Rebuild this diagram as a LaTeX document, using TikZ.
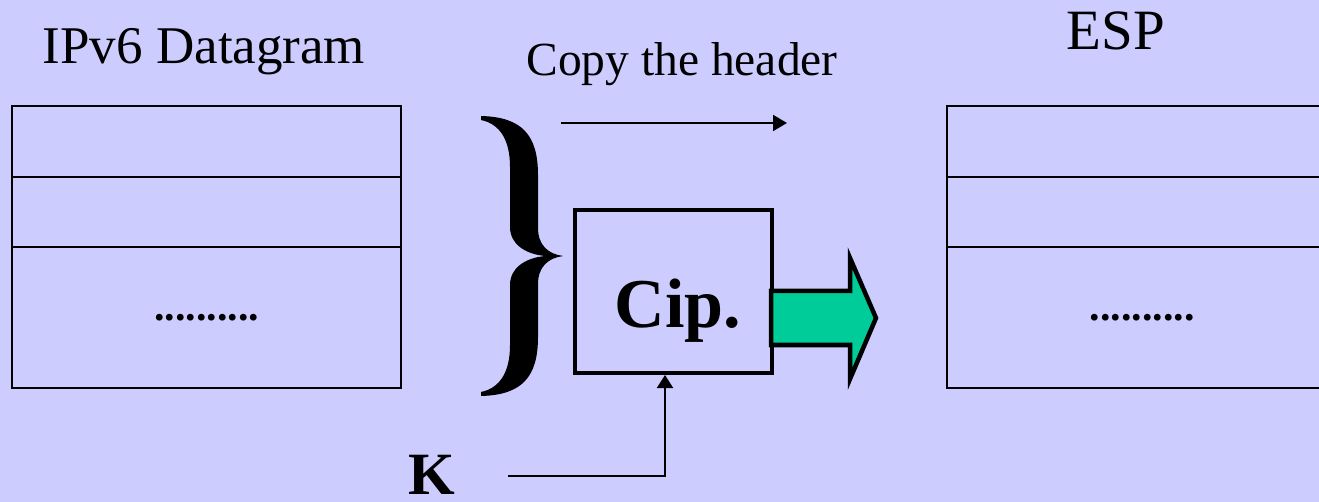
\documentclass[tikz,border=0pt]{standalone}
\usepackage{fontspec}
\setmainfont{Liberation Serif}
\usetikzlibrary{arrows.meta,calc}
\definecolor{bgc}{RGB}{204,204,255}
\definecolor{grn}{RGB}{0,204,153}
\tikzset{
  field/.style={draw=black, line width=2.5pt, inner sep=0pt, outer sep=0pt, minimum width=389pt},
  dotsfont/.style={font=\bfseries\fontsize{42}{50}\selectfont},
  title/.style={font=\fontsize{53}{60}\selectfont, anchor=base, inner sep=0pt},
  thinarrow/.style={line width=2pt, -{Triangle[length=14pt,width=16pt]}},
}
\begin{document}
\begin{tikzpicture}[x=1pt,y=-1pt]
\fill[bgc] (0,0) rectangle (1319,502);
\useasboundingbox (0,0) rectangle (1319,502);
\clip (0,0) rectangle (1319,502);
% titles
\node[title] (t1) at (204,64) {IPv6 Datagram};
\node[title, font=\fontsize{57}{62}\selectfont] (t2) at (1116,50) {ESP};
\node[title, font=\fontsize{47.5}{52}\selectfont] (t3) at (682,76) {Copy the header};
% left datagram
\node[field, minimum height=71pt, anchor=north west] (l1) at (12,106) {};
\node[field, minimum height=70pt, anchor=north] (l2) at (l1.south) {};
\node[field, minimum height=141pt, anchor=north, dotsfont] (l3) at (l2.south) {..........};
% right ESP
\node[field, minimum width=390pt, minimum height=71pt, anchor=north west] (r1) at (947,106) {};
\node[field, minimum width=390pt, minimum height=70pt, anchor=north] (r2) at (r1.south) {};
\node[field, minimum width=390pt, minimum height=141pt, anchor=north, dotsfont] (r3) at (r2.south) {..........};
% brace
\fill[black] (481,116) .. controls (522,117) and (538,135) .. (538,175) -- (538,228)
  .. controls (538,245) and (548,254) .. (563,256)
  .. controls (548,258) and (538,267) .. (538,284) -- (538,337)
  .. controls (538,377) and (522,395) .. (481,396) -- (481,392)
  .. controls (500,388) and (510,372) .. (510,345) -- (510,285)
  .. controls (510,268) and (525,258) .. (545,256)
  .. controls (525,254) and (510,244) .. (510,227) -- (510,167)
  .. controls (510,140) and (500,124) .. (481,120) -- cycle;
% cipher box
\node[draw=black, line width=4pt, minimum width=197pt, minimum height=163pt, inner sep=0pt] (cip) at (673.5,291.5) {};
\node[font=\bfseries\fontsize{70}{80}\selectfont, anchor=base, inner sep=0pt] (ciptext) at (678,327) {Cip.};
% green arrow
\filldraw[fill=grn, draw=black, line width=4.5pt, line join=miter]
  ([xshift=-3pt]cip.east |- 0,291) -- (850,291) -- (850,258) -- (876,318) -- (850,379) -- (850,345) -- ([xshift=-3pt]cip.east |- 0,345) -- cycle;
% copy arrow
\coordinate (cs) at (561,123);
\coordinate (ce) at (787,123);
\draw[thinarrow] (cs) -- (ce);
% key
\node[font=\bfseries\fontsize{60}{66}\selectfont, anchor=base, inner sep=0pt] (K) at (432,494) {K};
\coordinate (ks) at (508,476);
\draw[thinarrow, -{Triangle[length=13pt,width=16pt]}] (ks) -| ([xshift=-8.5pt]cip.south);
\end{tikzpicture}
\end{document}
